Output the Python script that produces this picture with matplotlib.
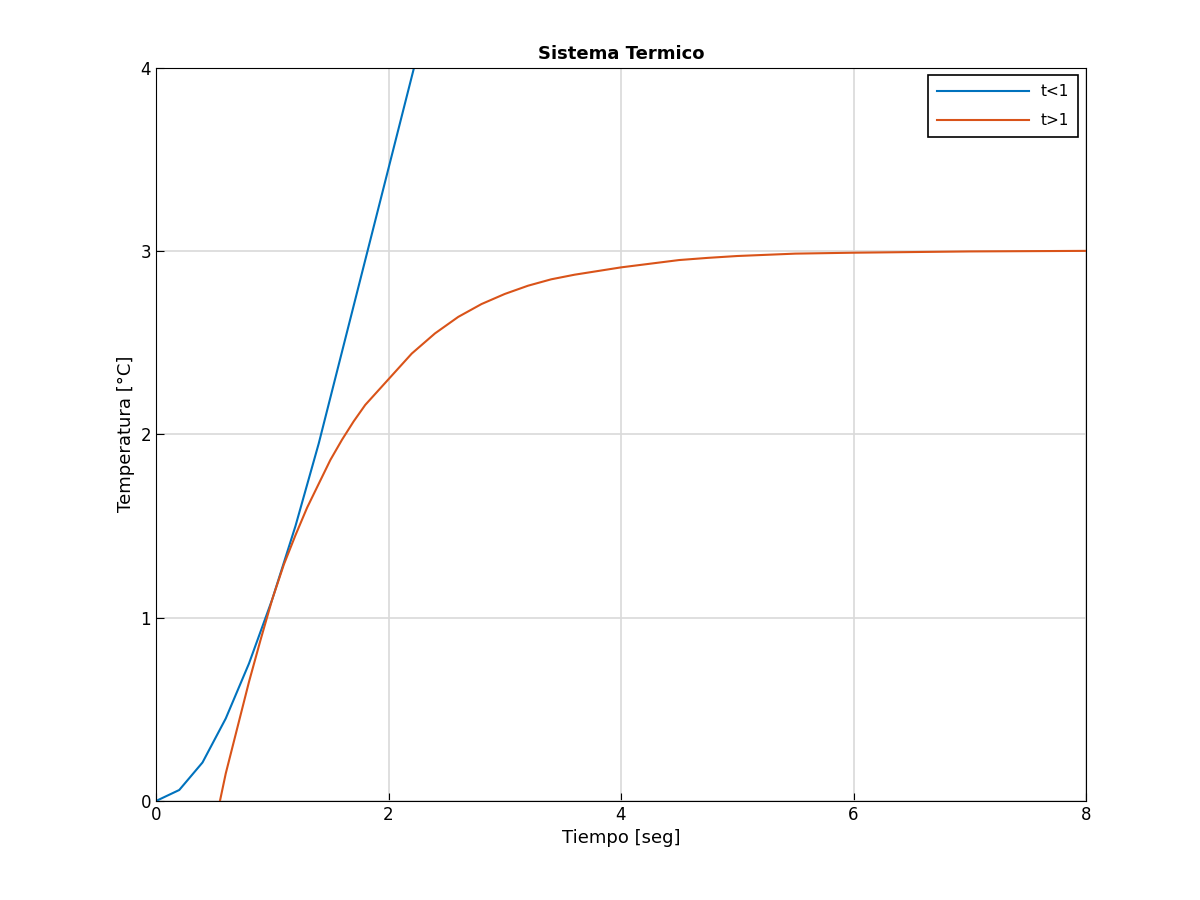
import numpy as np
import matplotlib.pyplot as plt

# values
t_blue = [0, 0.2, 0.4, 0.6, 0.8, 1.0, 1.2, 1.4, 1.6, 1.8, 2.0, 2.2, 2.4]
y_blue = [0, 0.06, 0.21, 0.45, 0.75, 1.1, 1.5, 1.95, 2.45, 2.95, 3.45, 3.95, 4.45]

t_orange = [0.55, 0.6, 0.7, 0.8, 0.9, 1.0, 1.1, 1.2, 1.3, 1.4, 1.5, 1.6, 1.7, 1.8, 1.9, 2.0,
            2.2, 2.4, 2.6, 2.8, 3.0, 3.2, 3.4, 3.6, 3.8, 4.0, 4.25, 4.5, 4.75, 5.0, 5.5,
            6.0, 7.0, 8.0]
y_orange = [0, 0.15, 0.4, 0.65, 0.88, 1.1, 1.29, 1.45, 1.6, 1.73, 1.86, 1.97, 2.07, 2.16,
            2.23, 2.3, 2.44, 2.55, 2.64, 2.71, 2.765, 2.81, 2.845, 2.87, 2.89, 2.91, 2.93,
            2.95, 2.962, 2.972, 2.985, 2.99, 2.997, 3.0]

fig = plt.figure(figsize=(12, 9), dpi=100)
ax = fig.add_axes([0.13, 0.11, 0.775, 0.815])
ax.plot(t_blue, y_blue, color='#0072BD', lw=1.5, label='t<1')
ax.plot(t_orange, y_orange, color='#D95319', lw=1.5, label='t>1')
ax.set_xlim(0, 8)
ax.set_ylim(0, 4)
ax.set_xticks([0, 2, 4, 6, 8])
ax.set_yticks([0, 1, 2, 3, 4])
ax.grid(True, color='#d9d9d9', lw=1.2)
ax.set_axisbelow(True)
ax.tick_params(direction='in', labelsize=12, length=6, top=False, right=False)
ax.set_xlabel('Tiempo [seg]', fontsize=13)
ax.set_ylabel('Temperatura [°C]', fontsize=13)
ax.set_title('Sistema Termico', fontsize=13, fontweight='bold')
leg = ax.legend(loc='upper right', fontsize=11, fancybox=False, framealpha=1,
                edgecolor='black', handlelength=6, labelspacing=0.9, borderpad=0.6)
leg.get_frame().set_linewidth(1.2)
fig.savefig('out.png')
